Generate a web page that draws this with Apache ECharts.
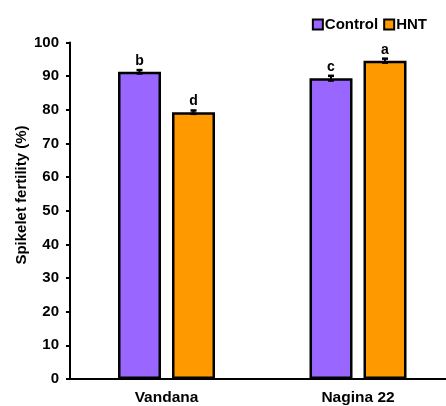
<!DOCTYPE html>
<html><head><meta charset="utf-8">
<script src="https://cdn.jsdelivr.net/npm/echarts@6/dist/echarts.min.js"></script>
<style>html,body{margin:0;padding:0;background:#fff}#c{width:446px;height:406px}</style>
</head><body><div id="c"></div>
<script>
const categories = ['Vandana', 'Nagina 22'];
const controlValues = [91.3, 89.4];
const hntValues = [79.3, 94.6];
const controlErr = [0.5, 0.7];
const hntErr = [0.5, 0.6];
const controlLetters = ['b', 'c'];
const hntLetters = ['d', 'a'];
const yTicks = [0, 10, 20, 30, 40, 50, 60, 70, 80, 90, 100];
const yTitle = 'Spikelet fertility (%)';

const chart = echarts.init(document.getElementById('c'), null, {renderer: 'canvas'});
const font = 'Liberation Sans, Arial, sans-serif';
const BAR_W = 43, BAR_GAP = 11;
const catIdx = categories.map((c, i) => i);

function errSeries(name, values, errs, letters, idx) {
  return {
    type: 'custom', name: name + '_err', silent: true, z: 5,
    data: values.map((v, i) => [i, v, errs[i]]),
    renderItem: function (params, api) {
      const ci = api.value(0), v = api.value(1), e = api.value(2);
      const base = api.coord([ci, 0]);
      const off = (idx === 0 ? -1 : 1) * (BAR_W + BAR_GAP) / 2;
      const x = base[0] + off;
      const top = api.coord([ci, v + e])[1];
      const bot = api.coord([ci, v - e])[1];
      const cap = 3;
      return {
        type: 'group',
        children: [
          {type: 'line', shape: {x1: x, y1: top, x2: x, y2: bot}, style: {stroke: '#000', lineWidth: 2}},
          {type: 'line', shape: {x1: x - cap, y1: top, x2: x + cap, y2: top}, style: {stroke: '#000', lineWidth: 2.5}},
          {type: 'line', shape: {x1: x - cap, y1: bot, x2: x + cap, y2: bot}, style: {stroke: '#000', lineWidth: 2.5}},
          {type: 'text', style: {text: letters[params.dataIndex], x: x, y: top - 2, align: 'center', verticalAlign: 'bottom', font: 'bold 14px ' + font, fill: '#000'}}
        ]
      };
    }
  };
}

chart.setOption({
  animation: false,
  backgroundColor: '#fff',
  legend: {
    top: 12, right: 14,
    itemWidth: 10, itemHeight: 10, itemGap: 5,
    data: ['Control', 'HNT'],
    textStyle: {fontFamily: font, fontWeight: 'bold', fontSize: 15, color: '#000', padding: [0, 0, 0, -3]},
    icon: 'rect'
  },
  graphic: [{
    type: 'text', x: 21.5, y: 195, rotation: Math.PI / 2,
    style: {text: yTitle, font: 'bold 15px ' + font, fill: '#000', align: 'center', verticalAlign: 'middle'}
  }],
  grid: {left: 70, top: 42.5, right: 0, height: 336.5, containLabel: false},
  xAxis: {
    type: 'value', min: -0.504, max: 1.4595,
    axisLine: {onZero: false, lineStyle: {color: '#000', width: 2}},
    axisTick: {show: false},
    splitLine: {show: false},
    axisLabel: {fontFamily: font, fontWeight: 'bold', fontSize: 15.5, color: '#000', margin: 11,
      customValues: catIdx, formatter: v => categories[Math.round(v)] || ''}
  },
  yAxis: {
    type: 'value', min: 0, max: 100, interval: 10,
    axisLine: {show: true, onZero: false, lineStyle: {color: '#000', width: 2}},
    axisTick: {show: true, length: 4, lineStyle: {color: '#000', width: 2}},
    axisLabel: {fontFamily: font, fontWeight: 'bold', fontSize: 15, color: '#000', margin: 11,
      formatter: v => yTicks.includes(v) ? String(v) : ''},
    splitLine: {show: false}
  },
  series: [
    {name: 'Control', type: 'bar', data: controlValues.map((v, i) => [i, v]), barWidth: BAR_W, barGap: (BAR_GAP / BAR_W * 100) + '%',
      itemStyle: {color: '#9966ff', borderColor: '#000', borderWidth: 2.5}},
    {name: 'HNT', type: 'bar', data: hntValues.map((v, i) => [i, v]), barWidth: BAR_W,
      itemStyle: {color: '#ff9900', borderColor: '#000', borderWidth: 2.5}},
    errSeries('Control', controlValues, controlErr, controlLetters, 0),
    errSeries('HNT', hntValues, hntErr, hntLetters, 1)
  ]
});
</script></body></html>
